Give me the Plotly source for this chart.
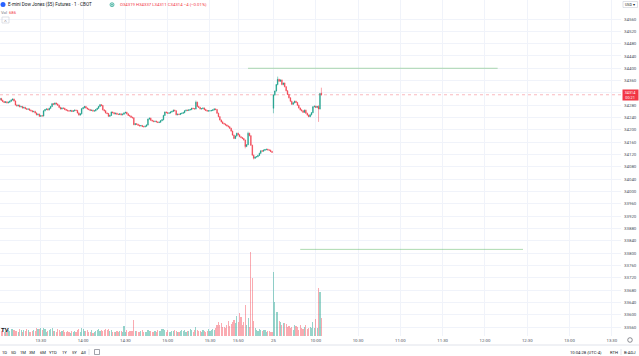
import plotly.graph_objects as go

# ---------------- data ----------------
# 1-minute bars. Day 1: 13:00 .. 16:14 (bar index 0..194); Day 2 (25th): 09:30 .. 10:04 (index 195..229)
day1_close = [
    34298, 34302, 34296, 34292, 34289, 34291, 34288, 34290, 34293, 34297,
    34300, 34294, 34281, 34278, 34280, 34275, 34276, 34271, 34273, 34269,
    34267, 34268, 34264, 34262, 34259, 34260, 34255, 34249, 34251, 34244,
    34246, 34245, 34262, 34266, 34268, 34265, 34270, 34276, 34285, 34283,
    34287, 34284, 34280, 34273, 34268, 34271, 34270, 34266, 34264, 34262,
    34261, 34263, 34260, 34262, 34264, 34263, 34255, 34248, 34252, 34269,
    34272, 34276, 34271, 34268, 34266, 34263, 34264, 34261, 34262, 34266,
    34270, 34276, 34282, 34279, 34265, 34262, 34255, 34253, 34244, 34247,
    34258, 34256, 34252, 34254, 34251, 34250, 34252, 34249, 34251, 34255,
    34257, 34252, 34247, 34245, 34241, 34239, 34217, 34220, 34218, 34215,
    34213, 34214, 34211, 34210, 34212, 34216, 34235, 34238, 34231, 34229,
    34227, 34228, 34226, 34224, 34225, 34230, 34233, 34247, 34258, 34256,
    34254, 34255, 34258, 34260, 34264, 34262, 34249, 34251, 34250, 34253,
    34254, 34256, 34262, 34264, 34263, 34265, 34266, 34270, 34269, 34268,
    34290, 34276, 34273, 34268, 34269, 34271, 34266, 34263, 34261, 34262,
    34262, 34263, 34265, 34268, 34266, 34254, 34243, 34232, 34226, 34221,
    34219, 34216, 34213, 34210, 34205, 34196, 34183, 34172, 34180, 34189,
    34184, 34178, 34175, 34172, 34167, 34146, 34152, 34189, 34181, 34150,
    34118, 34108, 34112, 34113, 34117, 34124, 34132, 34131, 34134, 34136,
    34137, 34135, 34134, 34130, 34127,
]
day2_close = [
    34313, 34326, 34347, 34364, 34358, 34362, 34347, 34352, 34340, 34327,
    34315, 34304, 34293, 34283, 34288, 34293, 34289, 34280, 34271, 34265,
    34262, 34257, 34264, 34254, 34248, 34243, 34249, 34256, 34275, 34277,
    34273, 34276, 34268, 34318, 34314,
]
day1_first_open = 34300
day2_first_open = 34270
last_open = 34319
wick_points = 2
high_override = {140: 34295, 177: 34194, 195: 34316, 198: 34373, 227: 34280, 229: 34337}
low_override = {175: 34140, 181: 34104, 195: 34254, 227: 34226, 229: 34311}

day1_volume = [
    260, 210, 180, 240, 150, 200, 170, 230, 190, 260,
    280, 240, 200, 180, 150, 260, 210, 170, 240, 200,
    270, 220, 160, 140, 190, 230, 200, 310, 250, 280,
    290, 230, 300, 260, 170, 200, 240, 280, 300, 200,
    180, 150, 270, 210, 160, 190, 230, 140, 170, 200,
    150, 120, 180, 140, 200, 160, 230, 260, 170, 320,
    250, 200, 180, 240, 150, 170, 220, 130, 160, 190,
    210, 260, 180, 240, 200, 230, 270, 210, 250, 190,
    230, 150, 170, 140, 200, 160, 180, 190, 150, 380,
    170, 210, 160, 200, 180, 190, 610, 200, 180, 160,
    150, 190, 220, 140, 170, 160, 240, 200, 190, 150,
    170, 200, 160, 240, 180, 190, 250, 280, 220, 170,
    210, 160, 140, 200, 180, 230, 200, 170, 150, 190,
    220, 180, 240, 160, 200, 190, 260, 230, 170, 210,
    330, 240, 200, 180, 160, 220, 190, 170, 200, 250,
    200, 230, 260, 240, 300, 420, 545, 400, 480, 330,
    360, 300, 420, 570, 380, 450, 520, 600, 480, 760,
    520, 860, 710, 430, 520, 1180, 420, 670, 350, 3180,
    2190, 580, 290, 240, 200, 260, 220, 180, 230, 210,
    170, 200, 190, 160, 150,
]
day2_volume = [
    2420, 1280, 900, 900, 560, 540, 430, 480, 510, 470,
    340, 380, 320, 360, 230, 420, 380, 330, 240, 420,
    290, 250, 330, 420, 250, 290, 330, 300, 520, 300,
    650, 300, 1830, 1690, 686,
]

# time-axis labels (bar index -> label)
tick_index = [30, 60, 90, 120, 150, 170, 195, 225, 255, 285, 315, 345, 375, 405, 435]
tick_labels = ["13:30", "14:00", "14:30", "15:00", "15:30", "15:50", "25", "10:00",
               "10:30", "11:00", "11:30", "12:00", "12:30", "13:00", "13:30"]
cut_label = "13:00"
cut_label_index = 0

price_ticks = list(range(33560, 34561, 40))
last_price = 34314
drawing_levels = [34400, 33812]
drawing_start = [177, 214]
drawing_end = [354, 372]

header_title = "E-mini Dow Jones ($5) Futures · 1 · CBOT"
header_ohlc = "O34319 H34337 L34311 C34314 −4 (−0.01%)"
vol_value = "686"
countdown = "00:21"
ranges = ["1D", "5D", "1M", "3M", "6M", "YTD", "1Y", "5Y", "All"]
range_x = [4, 13, 23, 32, 43, 53, 64, 74, 83]

# ---------------- build table ----------------
closes = day1_close + day2_close
volume = day1_volume + day2_volume
n = len(closes)
bars = list(range(n))
opens = [day1_first_open] + closes[:-1]
opens[len(day1_close)] = day2_first_open
opens[n - 1] = last_open
highs = [max(o, c) + wick_points for o, c in zip(opens, closes)]
lows = [min(o, c) - wick_points for o, c in zip(opens, closes)]
for k, v in high_override.items():
    highs[k] = v
for k, v in low_override.items():
    lows[k] = v

UP = "#089981"
DN = "#f23645"
UP_V = "rgba(8,153,129,0.42)"
DN_V = "rgba(242,54,69,0.42)"
vol_colors = [UP_V if c >= o else DN_V for o, c in zip(opens, closes)]

W, H = 639, 356
PL, PR, PT, PB = 0, 18, 0, 20
PW, PH = W - PL - PR, H - PT - PB
FONT = "Roboto"


def X(px):
    return (px - PL) / PW


def Y(py):
    return 1 - (py - PT) / PH


fig = go.Figure()
fig.add_trace(go.Bar(x=bars, y=volume, marker=dict(color=vol_colors, line=dict(width=0)),
                     width=0.8, yaxis="y2", hoverinfo="skip", showlegend=False))
fig.add_trace(go.Candlestick(
    x=bars, open=opens, high=highs, low=lows, close=closes,
    increasing=dict(line=dict(color=UP, width=0.45), fillcolor=UP),
    decreasing=dict(line=dict(color=DN, width=0.45), fillcolor=DN),
    whiskerwidth=0, showlegend=False, hoverinfo="skip"))

shapes = []
shapes.append(dict(type="line", xref="paper", x0=0, x1=1, yref="y", y0=last_price, y1=last_price,
                   line=dict(color="rgba(242,54,69,0.35)", width=1, dash="dot")))
for lvl, a, b in zip(drawing_levels, drawing_start, drawing_end):
    shapes.append(dict(type="line", xref="x", x0=a, x1=b, yref="y", y0=lvl, y1=lvl,
                       line=dict(color="rgba(76,175,80,0.45)", width=1)))
# chrome
shapes.append(dict(type="line", xref="paper", yref="paper", x0=X(0), x1=X(W), y0=Y(345), y1=Y(345),
                   line=dict(color="#e0e3eb", width=1)))
shapes.append(dict(type="line", xref="paper", yref="paper", x0=X(89), x1=X(89), y0=Y(349), y1=Y(355),
                   line=dict(color="#e0e3eb", width=1)))
shapes.append(dict(type="line", xref="paper", yref="paper", x0=X(621), x1=X(621), y0=Y(349), y1=Y(355),
                   line=dict(color="#e0e3eb", width=1)))
shapes.append(dict(type="rect", xref="paper", yref="paper", x0=X(94.5), x1=X(99.5), y0=Y(349.5), y1=Y(354.5),
                   line=dict(color="#787b86", width=0.7)))
shapes.append(dict(type="circle", xref="paper", yref="paper", x0=X(0.5), x1=X(5.5), y0=Y(2), y1=Y(7),
                   fillcolor="#2962ff", line=dict(width=0)))
shapes.append(dict(type="circle", xref="paper", yref="paper", x0=X(110), x1=X(114), y0=Y(2.7), y1=Y(6.7),
                   fillcolor="rgba(8,153,129,0.2)", line=dict(color=UP, width=0.6)))
shapes.append(dict(type="circle", xref="paper", yref="paper", x0=X(111.3), x1=X(112.7), y0=Y(4), y1=Y(5.4),
                   fillcolor=UP, line=dict(width=0)))
shapes.append(dict(type="rect", xref="paper", yref="paper", x0=X(2), x1=X(9), y0=Y(17), y1=Y(23),
                   line=dict(color="#d1d4dc", width=0.7)))
shapes.append(dict(type="rect", xref="paper", yref="paper", x0=X(623), x1=X(637.5), y0=Y(1.5), y1=Y(7.5),
                   line=dict(color="#d1d4dc", width=0.7)))
shapes.append(dict(type="circle", xref="paper", yref="paper", x0=X(627.7), x1=X(632.3), y0=Y(337.7), y1=Y(342.3),
                   line=dict(color="#434651", width=0.6)))

ann = []


def text(px, py, s, size=4.4, color="#131722", anchor="left", bold=False, bg=None):
    d = dict(xref="paper", yref="paper", x=X(px), y=Y(py), text=("<b>%s</b>" % s) if bold else s,
             showarrow=False, xanchor=anchor, yanchor="middle", borderpad=0,
             font=dict(family=FONT, size=size, color=color))
    if bg:
        d["bgcolor"] = bg
    ann.append(d)


text(6.5, 4.8, header_title, size=4.6)
text(118.5, 4.8, header_ohlc, size=4.3, color=DN)
text(-0.5, 12.5, "Vol", size=4.2, color="#787b86")
text(8.0, 12.5, vol_value, size=4.2, color=DN)
text(5.5, 20.2, "˄", size=5, color="#131722", anchor="center")
text(630.3, 4.6, "USD ▾", size=3.6, color="#131722", anchor="center")
text(0, 329, "TV", size=6, color="#131722", bold=True)
# x-label cut at left edge, placed through the axis scale
ann.append(dict(xref="x", yref="paper", x=cut_label_index, y=Y(340), text=cut_label, showarrow=False,
                xanchor="center", yanchor="middle", font=dict(family=FONT, size=4.3, color="#50535e")))
for s, px in zip(ranges, range_x):
    text(px, 352, s, size=4.2, color="#131722", anchor="center")
text(586, 352, "10:04:28 (UTC-4)", size=4.2, color="#131722", anchor="center")
text(614, 352, "RTH", size=4.2, color="#131722", anchor="center")
text(629.5, 352, "B-ADJ", size=4.2, color="#131722", anchor="center")
# last price label
ann.append(dict(xref="paper", yref="y", x=X(622), y=last_price, text="%d<br>%s" % (last_price, countdown),
                showarrow=False, xanchor="left", yanchor="middle", bgcolor=DN, width=15, height=10,
                borderpad=0, align="center", font=dict(family=FONT, size=3.8, color="white")))

GRID = "#f0f3fa"
fig.update_layout(
    width=W, height=H, margin=dict(l=PL, r=PR, t=PT, b=PB, pad=0),
    paper_bgcolor="white", plot_bgcolor="white", showlegend=False, hovermode=False,
    font=dict(family=FONT),
    bargap=0,
    xaxis=dict(range=[1.064, 441.5], tickmode="array", tickvals=tick_index, ticktext=tick_labels,
               showgrid=True, gridcolor=GRID, gridwidth=1, zeroline=False, showline=False, ticks="",
               tickfont=dict(family=FONT, size=4.3, color="#50535e"), rangeslider=dict(visible=False),
               fixedrange=True, ticklabelstandoff=1),
    yaxis=dict(side="right", range=[33530.8, 34621.7], tickmode="array", tickvals=price_ticks,
               ticktext=[str(v) for v in price_ticks], showgrid=True, gridcolor=GRID, gridwidth=1,
               zeroline=False, showline=False, ticks="", fixedrange=True,
               tickfont=dict(family=FONT, size=4.4, color="#50535e"), ticklabelstandoff=2),
    yaxis2=dict(overlaying="y", range=[0, 12768], visible=False, fixedrange=True),
    shapes=shapes, annotations=ann,
)

fig.write_html("out.html", config={"displayModeBar": False, "staticPlot": True},
               post_script="document.body.style.margin='0';document.body.style.overflow='hidden';")
